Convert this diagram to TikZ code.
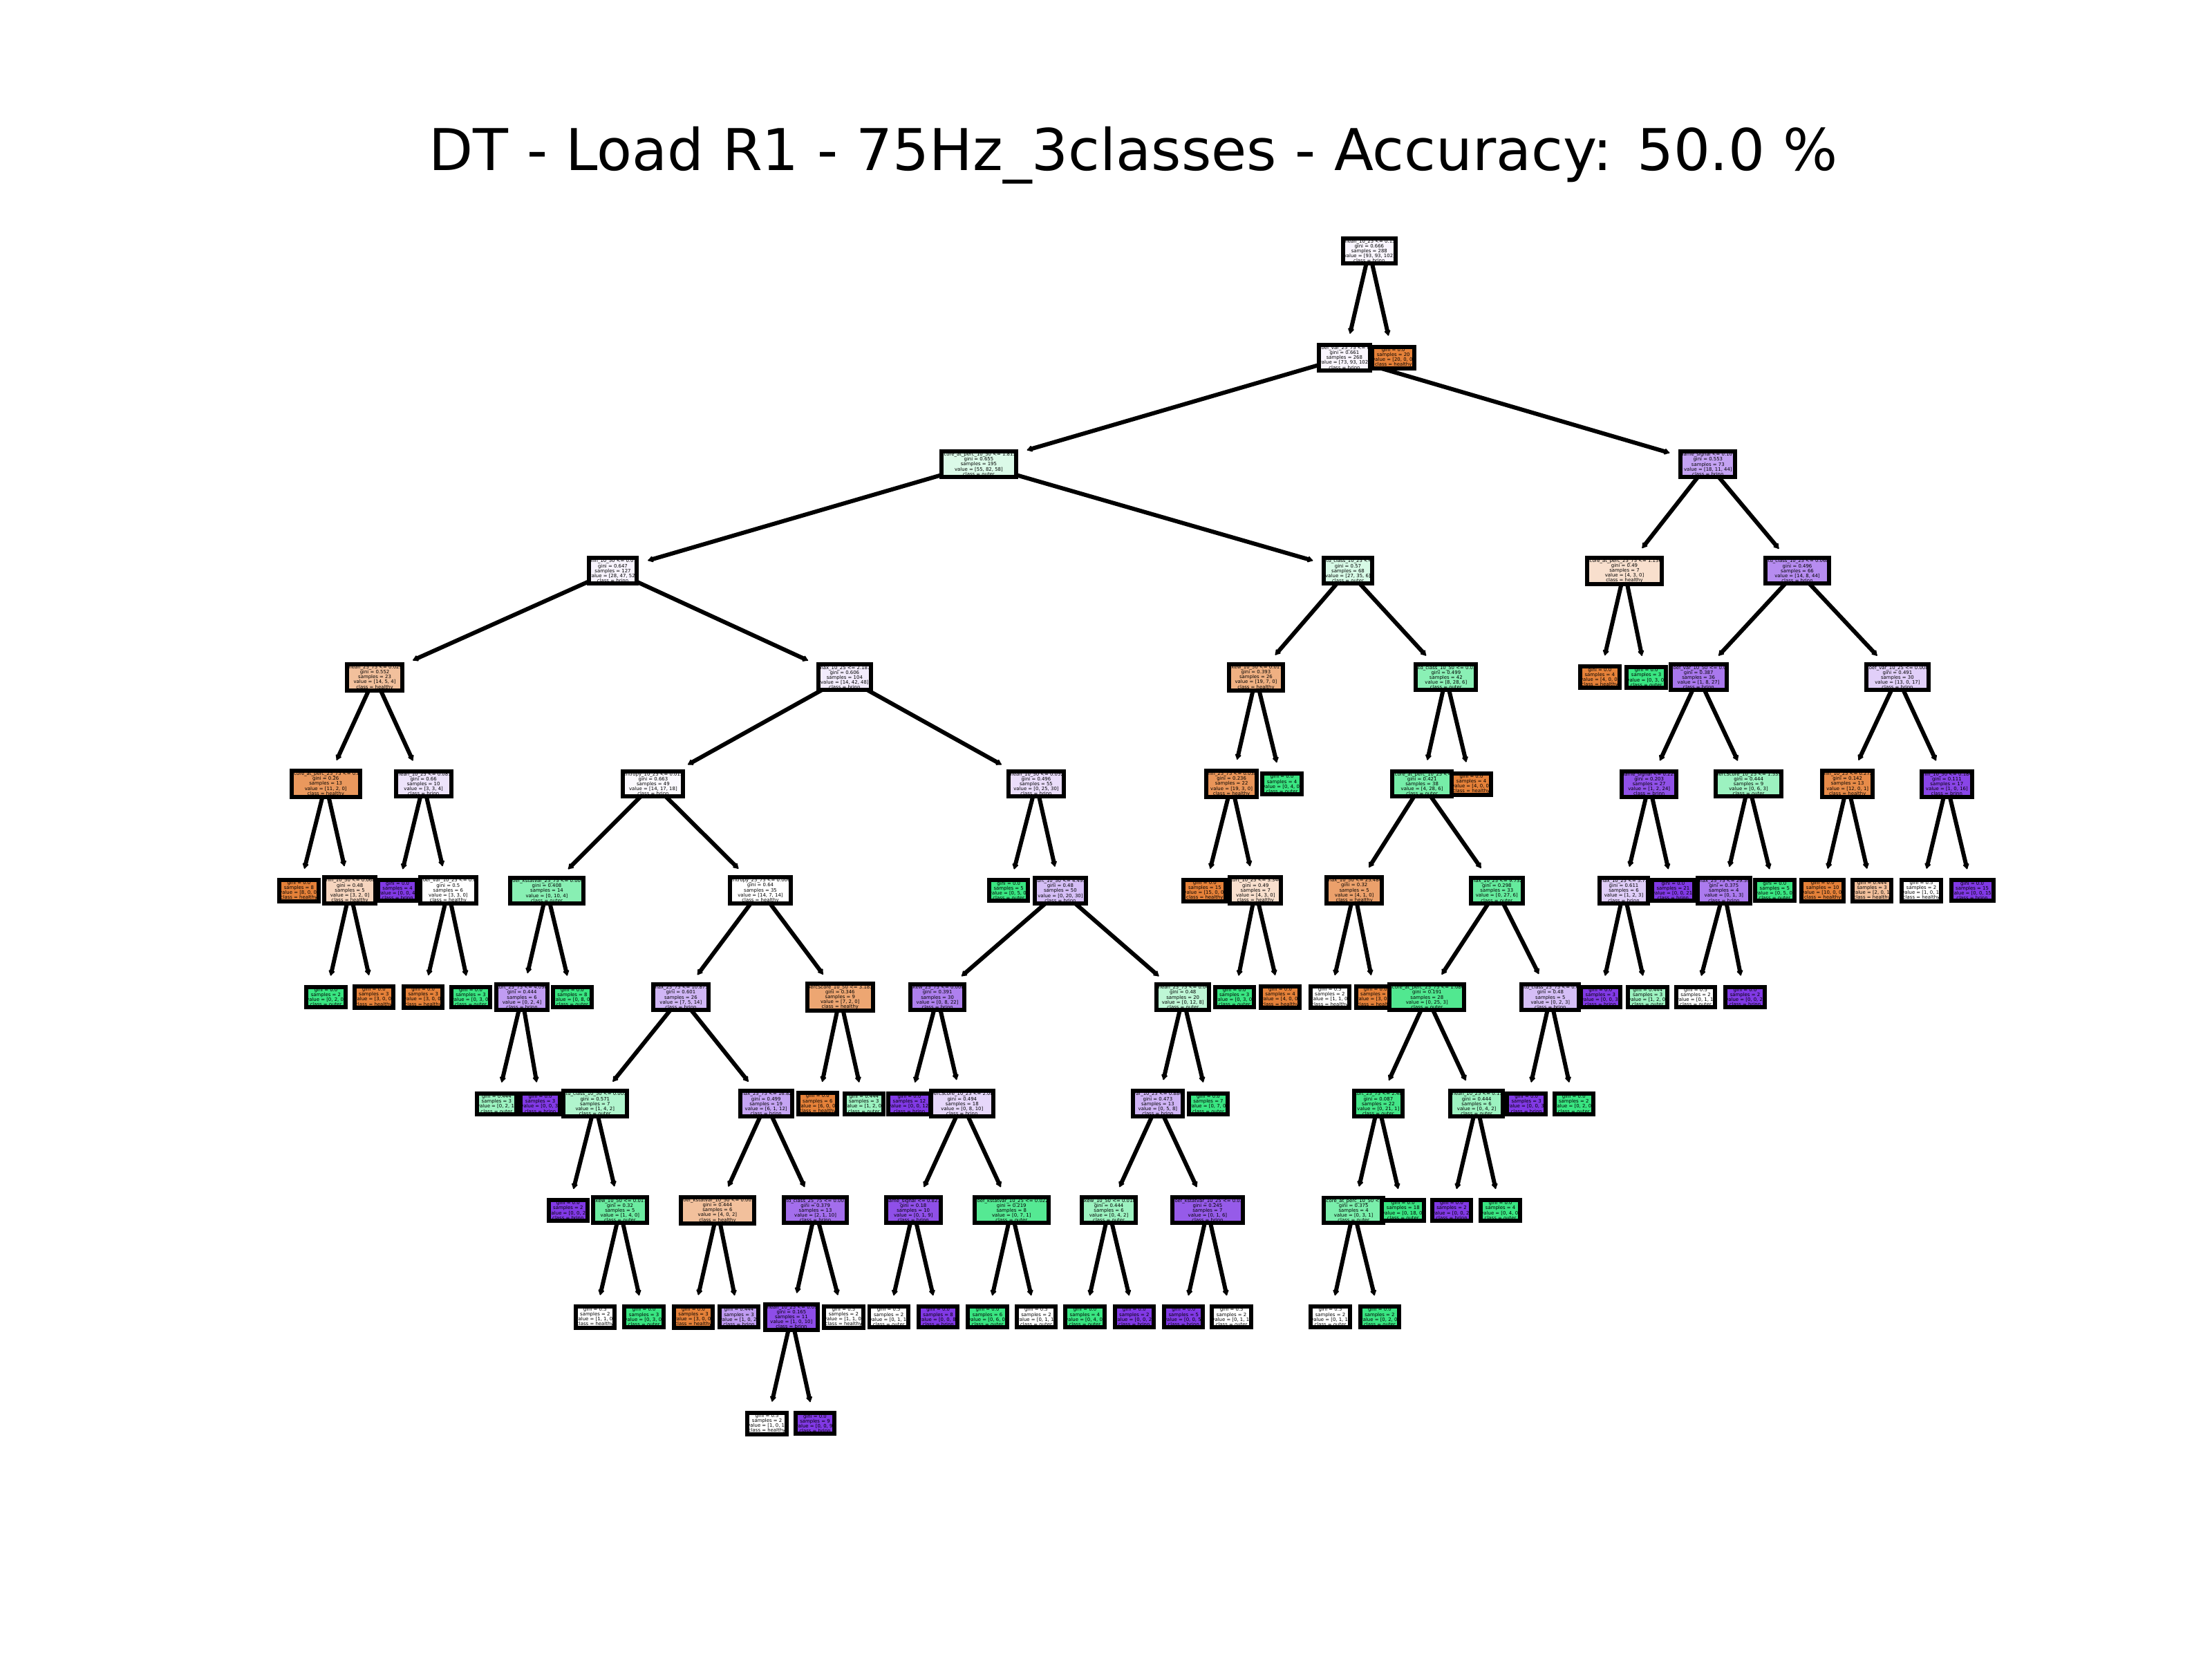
\documentclass[tikz,border=0pt]{standalone}
\usepackage{fontspec}
\setmainfont{DejaVu Sans}
\usetikzlibrary{arrows.meta}
\definecolor{healthy}{HTML}{E58139}
\definecolor{outer}{HTML}{39E581}
\definecolor{brinn}{HTML}{8139E5}
\pgfdeclarelayer{bg}
\foreach \k in {0,...,11}{\pgfdeclarelayer{e\k}\pgfdeclarelayer{n\k}}
\pgfsetlayers{bg,e11,n11,e10,n10,e9,n9,e8,n8,e7,n7,e6,n6,e5,n5,e4,n4,e3,n3,e2,n2,e1,n1,e0,n0,main}
\tikzset{
  tnode/.style={draw=black, line width=1.44pt, rectangle, inner xsep=0pt, inner ysep=0.35pt,
    align=center, font=\fontsize{1.66pt}{1.72pt}\selectfont},
  tedge/.style={draw=black, line width=1.44pt, line cap=round, -{Latex[length=2.2pt,width=2.7pt,round]}, shorten >=3.2pt}
}
\newcommand\tn[9]{%
  \pgfmathsetmacro\tnA{max(#6,#7,#8)}%
  \pgfmathsetmacro\tnC{min(#6,#7,#8)}%
  \pgfmathsetmacro\tnB{#6+#7+#8-\tnA-\tnC}%
  \pgfmathtruncatemacro\tnal{round(100*(\tnA-\tnB)/(#6+#7+#8-\tnB))}%
  \pgfmathsetmacro\tnY{177.9+75.56*#1}%
  \begin{pgfonlayer}{n#1}
    \node[tnode, fill=#9!\tnal!white] (#2) at (#4,\tnY) {#5\\value = [#6, #7, #8]\\class = #9};
  \end{pgfonlayer}
  \if\relax\detokenize{#3}\relax\else
  \begin{pgfonlayer}{e#1}
    \draw[tedge] (#3.center) -- (#2);
  \end{pgfonlayer}
  \fi
}
\begin{document}
\begin{tikzpicture}[x=0.49pt,y=-0.49pt]
\begin{pgfonlayer}{bg}
\fill[white] (0,0) rectangle (1568,1176);
\end{pgfonlayer}
\useasboundingbox (0,0) rectangle (1568,1176);
\node[font=\fontsize{20pt}{24pt}\selectfont, anchor=base] (title) at (803.5,121) {DT - Load R1 - 75Hz\_3classes - Accuracy: 50.0 \%};
\tn{0}{n0}{}{970.6}{mean\_10\_25 <= 0.15\\gini = 0.666\\samples = 288}{93}{93}{102}{brinn}
\tn{1}{n1}{n0}{953}{coef\_var\_25\_75 <= 0\\gini = 0.661\\samples = 268}{73}{93}{102}{brinn}
\tn{2}{n2}{n1}{693.8}{score\_at\_perc\_10\_50 <= 1.813\\gini = 0.655\\samples = 195}{55}{82}{58}{outer}
\tn{3}{n3}{n2}{434.4}{min\_10\_50 <= 0.07\\gini = 0.647\\samples = 127}{28}{47}{52}{brinn}
\tn{4}{n4}{n3}{265.6}{mean\_25\_75 <= 0.029\\gini = 0.552\\samples = 23}{14}{5}{4}{healthy}
\tn{5}{n5}{n4}{230.9}{score\_at\_perc\_25\_75 <= 0.8\\gini = 0.26\\samples = 13}{11}{2}{0}{healthy}
\tn{6}{n6}{n5}{211.9}{gini = 0.0\\samples = 8}{8}{0}{0}{healthy}
\tn{6}{n7}{n5}{248}{min\_10\_50 <= 0.068\\gini = 0.48\\samples = 5}{3}{2}{0}{healthy}
\tn{7}{n8}{n7}{231}{gini = 0.0\\samples = 2}{0}{2}{0}{outer}
\tn{7}{n9}{n7}{265}{gini = 0.0\\samples = 3}{3}{0}{0}{healthy}
\tn{5}{n10}{n4}{300.2}{mean\_10\_25 <= 0.087\\gini = 0.66\\samples = 10}{3}{3}{4}{brinn}
\tn{6}{n11}{n10}{281.8}{gini = 0.0\\samples = 4}{0}{0}{4}{brinn}
\tn{6}{n12}{n10}{317.7}{coef\_var\_10\_25 <= 0.0\\gini = 0.5\\samples = 6}{3}{3}{0}{healthy}
\tn{7}{n13}{n12}{300}{gini = 0.0\\samples = 3}{3}{0}{0}{healthy}
\tn{7}{n14}{n12}{333.7}{gini = 0.0\\samples = 3}{0}{3}{0}{outer}
\tn{4}{n15}{n3}{598.7}{max\_10\_25 <= 2.181\\gini = 0.606\\samples = 104}{14}{42}{48}{brinn}
\tn{5}{n16}{n15}{463}{entropy\_10\_25 <= 0.012\\gini = 0.663\\samples = 49}{14}{17}{18}{brinn}
\tn{6}{n17}{n16}{387.6}{coef\_kstatvar\_25\_75 <= 0.004\\gini = 0.408\\samples = 14}{0}{10}{4}{outer}
\tn{7}{n18}{n17}{370}{kurt\_25\_75 <= 4.098\\gini = 0.444\\samples = 6}{0}{2}{4}{brinn}
\tn{8}{n19}{n18}{352}{gini = 0.444\\samples = 3}{0}{2}{1}{outer}
\tn{8}{n20}{n18}{383}{gini = 0.0\\samples = 3}{0}{0}{3}{brinn}
\tn{7}{n21}{n17}{405.7}{gini = 0.0\\samples = 8}{0}{8}{0}{outer}
\tn{6}{n22}{n16}{539}{entropy\_25\_75 <= 0.006\\gini = 0.64\\samples = 35}{14}{7}{14}{healthy}
\tn{7}{n23}{n22}{482.6}{max\_25\_75 <= 10.875\\gini = 0.601\\samples = 26}{7}{5}{14}{brinn}
\tn{8}{n24}{n23}{421.8}{std\_class\_10\_50 <= 0.005\\gini = 0.571\\samples = 7}{1}{4}{2}{outer}
\tn{9}{n25}{n24}{402.7}{gini = 0.0\\samples = 2}{0}{0}{2}{brinn}
\tn{9}{n26}{n24}{439.5}{skew\_10\_50 <= 0.017\\gini = 0.32\\samples = 5}{1}{4}{0}{outer}
\tn{10}{n27}{n26}{421.8}{gini = 0.5\\samples = 2}{1}{1}{0}{healthy}
\tn{10}{n28}{n26}{456.5}{gini = 0.0\\samples = 3}{0}{3}{0}{outer}
\tn{8}{n29}{n23}{543}{max\_25\_75 <= 16.82\\gini = 0.499\\samples = 19}{6}{1}{12}{brinn}
\tn{9}{n30}{n29}{508.6}{coef\_kstatvar\_10\_50 <= 0.003\\gini = 0.444\\samples = 6}{4}{0}{2}{healthy}
\tn{10}{n31}{n30}{491.5}{gini = 0.0\\samples = 3}{3}{0}{0}{healthy}
\tn{10}{n32}{n30}{523.8}{gini = 0.444\\samples = 3}{1}{0}{2}{brinn}
\tn{9}{n33}{n29}{578}{std\_class\_25\_75 <= 0.001\\gini = 0.379\\samples = 13}{2}{1}{10}{brinn}
\tn{10}{n34}{n33}{561}{mean\_10\_25 <= 0.09\\gini = 0.165\\samples = 11}{1}{0}{10}{brinn}
\tn{11}{n35}{n34}{543.7}{gini = 0.5\\samples = 2}{1}{0}{1}{healthy}
\tn{11}{n36}{n34}{577.7}{gini = 0.0\\samples = 9}{0}{0}{9}{brinn}
\tn{10}{n37}{n33}{598}{gini = 0.5\\samples = 2}{1}{1}{0}{healthy}
\tn{7}{n38}{n22}{595.5}{percScore\_10\_50 <= 3.183\\gini = 0.346\\samples = 9}{7}{2}{0}{healthy}
\tn{8}{n39}{n38}{579.6}{gini = 0.0\\samples = 6}{6}{0}{0}{healthy}
\tn{8}{n40}{n38}{612.4}{gini = 0.444\\samples = 3}{1}{2}{0}{outer}
\tn{5}{n41}{n15}{734.5}{mean\_10\_50 <= 0.052\\gini = 0.496\\samples = 55}{0}{25}{30}{brinn}
\tn{6}{n42}{n41}{715}{gini = 0.0\\samples = 5}{0}{5}{0}{outer}
\tn{6}{n43}{n41}{751.6}{kurt\_10\_50 <= 4.495\\gini = 0.48\\samples = 50}{0}{20}{30}{brinn}
\tn{7}{n44}{n43}{664.5}{skew\_25\_75 <= 0.008\\gini = 0.391\\samples = 30}{0}{8}{22}{brinn}
\tn{8}{n45}{n44}{644.6}{gini = 0.0\\samples = 12}{0}{0}{12}{brinn}
\tn{8}{n46}{n44}{682}{percScore\_10\_25 <= 2.08\\gini = 0.494\\samples = 18}{0}{8}{10}{brinn}
\tn{9}{n47}{n46}{647.4}{name\_signal <= 0.821\\gini = 0.18\\samples = 10}{0}{1}{9}{brinn}
\tn{10}{n48}{n47}{630}{gini = 0.5\\samples = 2}{0}{1}{1}{outer}
\tn{10}{n49}{n47}{665}{gini = 0.0\\samples = 8}{0}{0}{8}{brinn}
\tn{9}{n50}{n46}{717}{coef\_kstatvar\_10\_25 <= 0.022\\gini = 0.219\\samples = 8}{0}{7}{1}{outer}
\tn{10}{n51}{n50}{700}{gini = 0.0\\samples = 6}{0}{6}{0}{outer}
\tn{10}{n52}{n50}{734.5}{gini = 0.5\\samples = 2}{0}{1}{1}{outer}
\tn{7}{n53}{n43}{838.5}{mean\_25\_75 <= 0.04\\gini = 0.48\\samples = 20}{0}{12}{8}{outer}
\tn{8}{n54}{n53}{820.7}{var\_10\_25 <= 0.884\\gini = 0.473\\samples = 13}{0}{5}{8}{brinn}
\tn{9}{n55}{n54}{786}{skew\_10\_50 <= 0.018\\gini = 0.444\\samples = 6}{0}{4}{2}{outer}
\tn{10}{n56}{n55}{769}{gini = 0.0\\samples = 4}{0}{4}{0}{outer}
\tn{10}{n57}{n55}{804}{gini = 0.0\\samples = 2}{0}{0}{2}{brinn}
\tn{9}{n58}{n54}{856}{coef\_kstatvar\_10\_25 <= 0.03\\gini = 0.245\\samples = 7}{0}{1}{6}{brinn}
\tn{10}{n59}{n58}{839}{gini = 0.0\\samples = 5}{0}{0}{5}{brinn}
\tn{10}{n60}{n58}{873}{gini = 0.5\\samples = 2}{0}{1}{1}{outer}
\tn{8}{n61}{n53}{856.5}{gini = 0.0\\samples = 7}{0}{7}{0}{outer}
\tn{3}{n62}{n2}{955.5}{std\_class\_10\_25 <=\\gini = 0.57\\samples = 68}{27}{35}{6}{outer}
\tn{4}{n63}{n62}{890.3}{skew\_10\_50 <= 0.017\\gini = 0.393\\samples = 26}{19}{7}{0}{healthy}
\tn{5}{n64}{n63}{873}{min\_25\_75 <= 0.038\\gini = 0.236\\samples = 22}{19}{3}{0}{healthy}
\tn{6}{n65}{n64}{854}{gini = 0.0\\samples = 15}{15}{0}{0}{healthy}
\tn{6}{n66}{n64}{890}{kurt\_10\_25 <= 3.344\\gini = 0.49\\samples = 7}{4}{3}{0}{healthy}
\tn{7}{n67}{n66}{875}{gini = 0.0\\samples = 3}{0}{3}{0}{outer}
\tn{7}{n68}{n66}{907.5}{gini = 0.0\\samples = 4}{4}{0}{0}{healthy}
\tn{5}{n69}{n63}{908.7}{gini = 0.0\\samples = 4}{0}{4}{0}{outer}
\tn{4}{n70}{n62}{1025}{std\_class\_10\_50 <= 0.03\\gini = 0.499\\samples = 42}{8}{28}{6}{outer}
\tn{5}{n71}{n70}{1008}{score\_at\_perc\_10\_25 <=\\gini = 0.421\\samples = 38}{4}{28}{6}{outer}
\tn{6}{n72}{n71}{960}{max\_10\_50 <= 25.484\\gini = 0.32\\samples = 5}{4}{1}{0}{healthy}
\tn{7}{n73}{n72}{942.7}{gini = 0.5\\samples = 2}{1}{1}{0}{healthy}
\tn{7}{n74}{n72}{975}{gini = 0.0\\samples = 3}{3}{0}{0}{healthy}
\tn{6}{n75}{n71}{1061}{max\_10\_25 <= 9.732\\gini = 0.298\\samples = 33}{0}{27}{6}{outer}
\tn{7}{n76}{n75}{1011.5}{score\_at\_perc\_25\_75 <= 1.086\\gini = 0.191\\samples = 28}{0}{25}{3}{outer}
\tn{8}{n77}{n76}{977}{kurt\_25\_75 <= 2.48\\gini = 0.087\\samples = 22}{0}{21}{1}{outer}
\tn{9}{n78}{n77}{959.5}{score\_at\_perc\_10\_50 <=\\gini = 0.375\\samples = 4}{0}{3}{1}{outer}
\tn{10}{n79}{n78}{943}{gini = 0.5\\samples = 2}{0}{1}{1}{outer}
\tn{10}{n80}{n78}{978}{gini = 0.0\\samples = 2}{0}{2}{0}{outer}
\tn{9}{n81}{n77}{994.6}{gini = 0.0\\samples = 18}{0}{18}{0}{outer}
\tn{8}{n82}{n76}{1046.7}{mean\_10\_25 <= 0.11\\gini = 0.444\\samples = 6}{0}{4}{2}{outer}
\tn{9}{n83}{n82}{1029}{gini = 0.0\\samples = 2}{0}{0}{2}{brinn}
\tn{9}{n84}{n82}{1063.6}{gini = 0.0\\samples = 4}{0}{4}{0}{outer}
\tn{7}{n85}{n75}{1099}{std\_class\_25\_75 <= 0.0\\gini = 0.48\\samples = 5}{0}{2}{3}{brinn}
\tn{8}{n86}{n85}{1082}{gini = 0.0\\samples = 3}{0}{0}{3}{brinn}
\tn{8}{n87}{n85}{1115.6}{gini = 0.0\\samples = 2}{0}{2}{0}{outer}
\tn{5}{n88}{n70}{1043}{gini = 0.0\\samples = 4}{4}{0}{0}{healthy}
\tn{2}{n89}{n1}{1210.7}{name\_signal <= 0.107\\gini = 0.553\\samples = 73}{18}{11}{44}{brinn}
\tn{3}{n90}{n89}{1151.5}{score\_at\_perc\_25\_75 <= 1.156\\gini = 0.49\\samples = 7}{4}{3}{0}{healthy}
\tn{4}{n91}{n90}{1134}{gini = 0.0\\samples = 4}{4}{0}{0}{healthy}
\tn{4}{n92}{n90}{1167}{gini = 0.0\\samples = 3}{0}{3}{0}{outer}
\tn{3}{n93}{n89}{1274}{std\_class\_10\_25 <= 0.068\\gini = 0.496\\samples = 66}{14}{8}{44}{brinn}
\tn{4}{n94}{n93}{1204}{coef\_var\_10\_50 <= 0.0\\gini = 0.387\\samples = 36}{1}{8}{27}{brinn}
\tn{5}{n95}{n94}{1169}{name\_signal <= 0.229\\gini = 0.203\\samples = 27}{1}{2}{24}{brinn}
\tn{6}{n96}{n95}{1151}{max\_10\_25 <= 5.72\\gini = 0.611\\samples = 6}{1}{2}{3}{brinn}
\tn{7}{n97}{n96}{1134.5}{gini = 0.0\\samples = 3}{0}{0}{3}{brinn}
\tn{7}{n98}{n96}{1168}{gini = 0.444\\samples = 3}{1}{2}{0}{outer}
\tn{6}{n99}{n95}{1186}{gini = 0.0\\samples = 21}{0}{0}{21}{brinn}
\tn{5}{n100}{n94}{1239.5}{percScore\_10\_25 <= 1.539\\gini = 0.444\\samples = 9}{0}{6}{3}{outer}
\tn{6}{n101}{n100}{1222}{max\_25\_75 <= 29.59\\gini = 0.375\\samples = 4}{0}{1}{3}{brinn}
\tn{7}{n102}{n101}{1202}{gini = 0.5\\samples = 2}{0}{1}{1}{outer}
\tn{7}{n103}{n101}{1237}{gini = 0.0\\samples = 2}{0}{0}{2}{brinn}
\tn{6}{n104}{n100}{1258}{gini = 0.0\\samples = 5}{0}{5}{0}{outer}
\tn{4}{n105}{n93}{1345}{coef\_var\_10\_25 <= 0.008\\gini = 0.491\\samples = 30}{13}{0}{17}{brinn}
\tn{5}{n106}{n105}{1309.6}{min\_10\_25 <= 0.272\\gini = 0.142\\samples = 13}{12}{0}{1}{healthy}
\tn{6}{n107}{n106}{1292}{gini = 0.0\\samples = 10}{10}{0}{0}{healthy}
\tn{6}{n108}{n106}{1327}{gini = 0.444\\samples = 3}{2}{0}{1}{healthy}
\tn{5}{n109}{n105}{1380}{min\_10\_50 <= 0.184\\gini = 0.111\\samples = 17}{1}{0}{16}{brinn}
\tn{6}{n110}{n109}{1362}{gini = 0.5\\samples = 2}{1}{0}{1}{healthy}
\tn{6}{n111}{n109}{1398}{gini = 0.0\\samples = 15}{0}{0}{15}{brinn}
\tn{1}{n112}{n0}{987.7}{gini = 0.0\\samples = 20}{20}{0}{0}{healthy}
\end{tikzpicture}
\end{document}
